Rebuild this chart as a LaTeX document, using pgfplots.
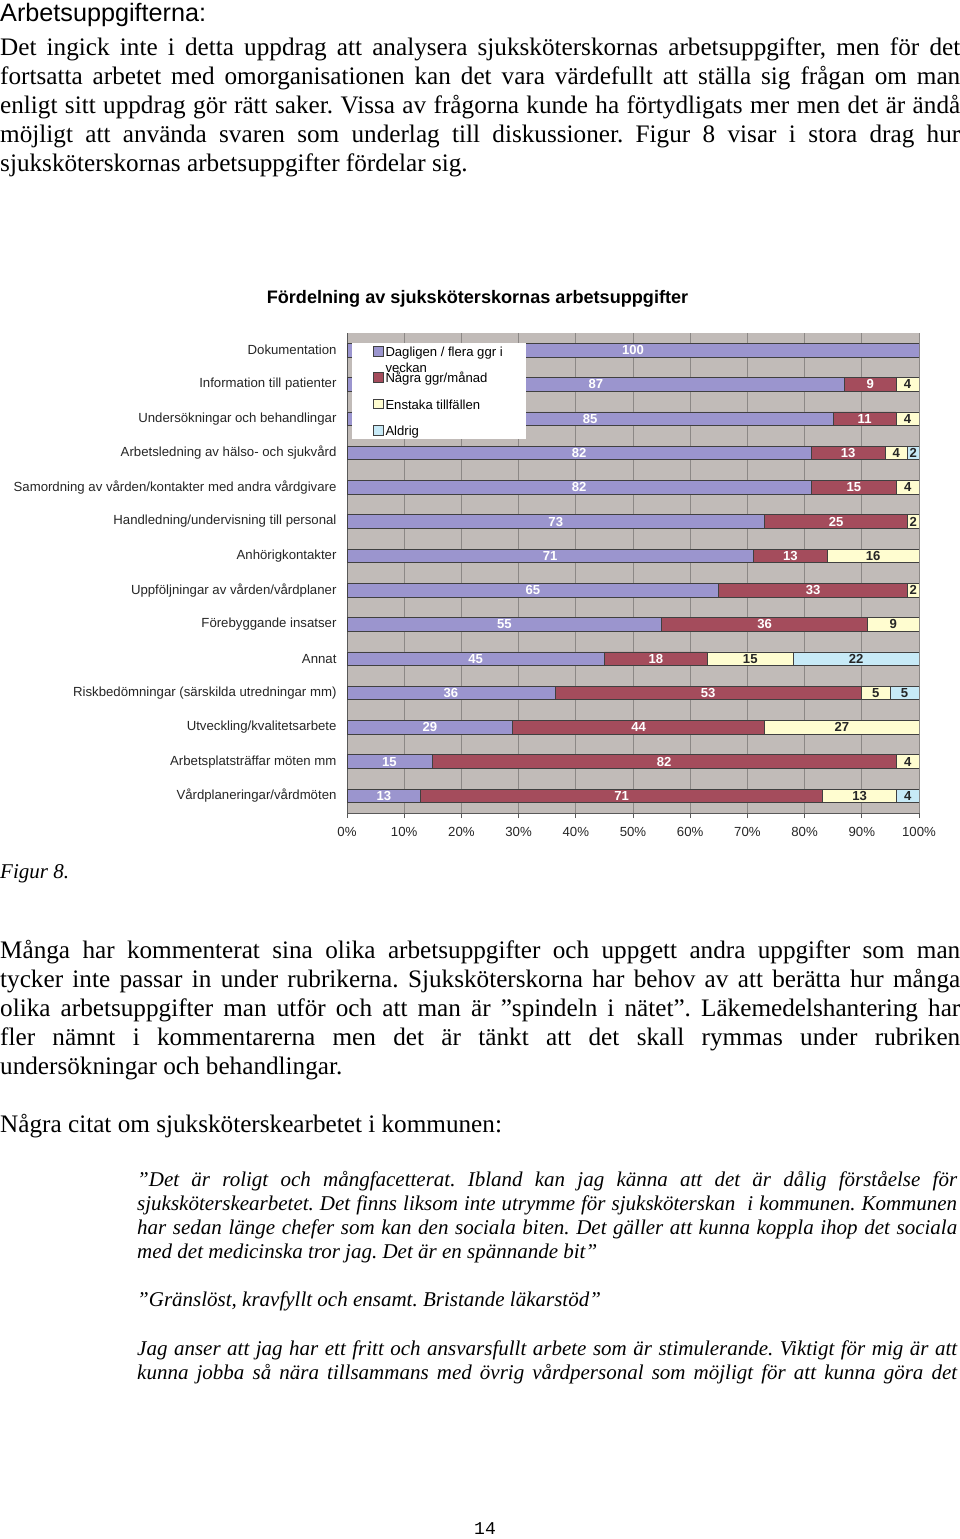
\documentclass[border=0pt]{standalone}
\usepackage{fontspec}
\setmainfont{Liberation Serif}
\newfontfamily\arial{Liberation Sans}
\newfontfamily\mono{Liberation Mono}
\usepackage{pgfplots}
\usepackage{pgfplotstable}
\pgfplotsset{compat=1.18}
\definecolor{cP}{RGB}{155,149,206}
\definecolor{cM}{RGB}{164,76,92}
\definecolor{cY}{RGB}{255,253,208}
\definecolor{cC}{RGB}{199,234,247}
\definecolor{cBG}{RGB}{193,187,184}
\definecolor{cGrid}{RGB}{140,136,134}
\frenchspacing

% i = category, d = Dagligen, n = Några ggr/månad, e = Enstaka, a = Aldrig, t = row total
\pgfplotstableread{
i d n e a t
0 100 0 0 0 100
1 87 9 4 0 100
2 85 11 4 0 100
3 82 13 4 2 101
4 82 15 4 0 101
5 73 25 2 0 100
6 71 13 16 0 100
7 65 33 2 0 100
8 55 36 9 0 100
9 45 18 15 22 100
10 36 53 5 5 99
11 29 44 27 0 100
12 15 82 4 0 101
13 13 71 13 4 101
}\data

\newcommand\jl[4]{\node[anchor=base west,inner sep=0pt] at (#1pt,-#2pt) {\hbox to #3pt{#4}};}
\newcommand\nl[3]{\node[anchor=base west,inner sep=0pt] at (#1pt,-#2pt) {#3};}

\begin{document}
\begin{tikzpicture}
\fill[white] (0pt,0pt) rectangle (960pt,-1539pt);
\path[use as bounding box] (0pt,0pt) rectangle (960pt,-1539pt);

% heading and first paragraph
\node[anchor=base west,inner sep=0pt,font=\arial\fontsize{25.2}{29}\selectfont] at (0pt,-21pt) {Arbetsuppgifterna:};
\begin{scope}[every node/.style={font=\fontsize{25.2}{29}\selectfont}]
\jl{0}{55}{960}{Det ingick inte i detta uppdrag att analysera sjuksköterskornas arbetsuppgifter, men för det}
\jl{0}{84}{960}{fortsatta arbetet med omorganisationen kan det vara värdefullt att ställa sig frågan om man}
\jl{0}{113}{960}{enligt sitt uppdrag gör rätt saker. Vissa av frågorna kunde ha förtydligats mer men det är ändå}
\jl{0}{142}{960}{möjligt att använda svaren som underlag till diskussioner. Figur 8 visar i stora drag hur}
\nl{0}{171}{sjuksköterskornas arbetsuppgifter fördelar sig.}
\jl{0}{958}{960}{Många har kommenterat sina olika arbetsuppgifter och uppgett andra uppgifter som man}
\jl{0}{987}{960}{tycker inte passar in under rubrikerna. Sjuksköterskorna har behov av att berätta hur många}
\jl{0}{1016}{960}{olika arbetsuppgifter man utför och att man är ”spindeln i nätet”. Läkemedelshantering har}
\jl{0}{1045}{960}{fler nämnt i kommentarerna men det är tänkt att det skall rymmas under rubriken}
\nl{0}{1074}{undersökningar och behandlingar.}
\nl{0}{1132}{Några citat om sjuksköterskearbetet i kommunen:}
\end{scope}
\begin{scope}[every node/.style={font=\itshape\fontsize{21}{24}\selectfont}]
\nl{0}{878}{Figur 8.}
\jl{137}{1186}{820}{”Det är roligt och mångfacetterat. Ibland kan jag känna att det är dålig förståelse för}
\jl{137}{1210}{820}{sjuksköterskearbetet. Det finns liksom inte utrymme för sjuksköterskan \ i kommunen. Kommunen}
\jl{137}{1234}{820}{har sedan länge chefer som kan den sociala biten. Det gäller att kunna koppla ihop det sociala}
\nl{137}{1258}{med det medicinska tror jag. Det är en spännande bit”}
\nl{137}{1306}{”Gränslöst, kravfyllt och ensamt. Bristande läkarstöd”}
\jl{137}{1355}{820}{Jag anser att jag har ett fritt och ansvarsfullt arbete som är stimulerande. Viktigt för mig är att}
\jl{137}{1379}{820}{kunna jobba så nära tillsammans med övrig vårdpersonal som möjligt för att kunna göra det}
\end{scope}
\node[anchor=base,inner sep=0pt,font=\mono\fontsize{18}{20}\selectfont] at (485pt,-1534pt) {14};

% chart title
\node[anchor=base,inner sep=0pt,font=\arial\bfseries\fontsize{18.1}{21}\selectfont] at (477.5pt,-303.5pt) {Fördelning av sjuksköterskornas arbetsuppgifter};

\begin{axis}[
  at={(347pt,-333pt)}, anchor=north west,
  x=5.72pt, y=34.2857pt, y dir=reverse,
  xmin=0, xmax=100, ymin=-0.5, ymax=13.5,
  xbar stacked, bar width=13.5pt,
  axis background/.style={fill=cBG},
  axis x line*=bottom, axis y line*=left,
  axis line style={-, draw=black!65, line width=0.8pt},
  xmajorgrids, grid style={draw=cGrid, line width=0.7pt},
  xtick={0,10,...,100},
  xticklabels={0\%,10\%,20\%,30\%,40\%,50\%,60\%,70\%,80\%,90\%,100\%},
  tick align=outside, major tick length=5pt,
  xtick style={draw=black!65, line width=0.7pt},
  xticklabel style={yshift=-6pt},
  ytick={0,...,13},
  yticklabels={Dokumentation,Information till patienter,Undersökningar och behandlingar,Arbetsledning av hälso- och sjukvård,Samordning av vården/kontakter med andra vårdgivare,Handledning/undervisning till personal,Anhörigkontakter,Uppföljningar av vården/vårdplaner,Förebyggande insatser,Annat,Riskbedömningar (särskilda utredningar mm),Utveckling/kvalitetsarbete,Arbetsplatsträffar möten mm,Vårdplaneringar/vårdmöten},
  ytick style={draw=none},
  yticklabel style={xshift=-2pt},
  tick label style={font=\arial\fontsize{13.2}{15}\selectfont, text=black!85},
  point meta=explicit symbolic,
  nodes near coords={\ifnum\pgfplotspointmeta>0 \pgfplotspointmeta\fi},
  every node near coord/.append style={anchor=center, inner sep=0pt,
     font=\arial\bfseries\fontsize{13.1}{15}\selectfont},
  legend image code/.code={\draw[#1] (0pt,-4.5pt) rectangle (9.5pt,5pt);},
  legend style={at={(axis cs:0.874,-0.208)}, anchor=north west, fill=white, draw=none,
     font=\arial\fontsize{13.1}{16}\selectfont, inner xsep=21pt, inner ysep=0pt,
     row sep=9.6pt, nodes={inner sep=2pt}, cells={anchor=west}},
]
\addplot[fill=cP, draw=black!75, line width=0.8pt, every node near coord/.append style={text=white}]
  table[y=i, x expr=\thisrow{d}*100/\thisrow{t}, meta=d]{\data};
\addplot[fill=cM, draw=black!75, line width=0.8pt, every node near coord/.append style={text=white}]
  table[y=i, x expr=\thisrow{n}*100/\thisrow{t}, meta=n]{\data};
\addplot[fill=cY, draw=black!75, line width=0.8pt, every node near coord/.append style={text=black!85}]
  table[y=i, x expr=\thisrow{e}*100/\thisrow{t}, meta=e]{\data};
\addplot[fill=cC, draw=black!75, line width=0.8pt, every node near coord/.append style={text=black!85}]
  table[y=i, x expr=\thisrow{a}*100/\thisrow{t}, meta=a]{\data};
\legend{{\strut\smash{\begin{tabular}[t]{@{}l@{}}Dagligen / flera ggr i\\veckan\end{tabular}}},{\strut Några ggr/månad},{\strut Enstaka tillfällen},{\strut Aldrig}}
\end{axis}
\end{tikzpicture}
\end{document}
